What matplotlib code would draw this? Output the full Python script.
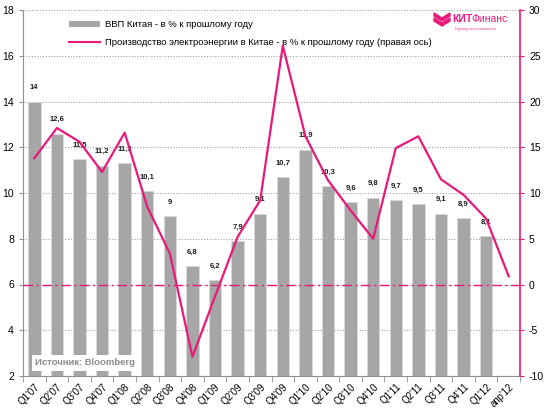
import numpy as np
import matplotlib.pyplot as plt
from matplotlib.lines import Line2D
from matplotlib.patches import Patch, Polygon

quarters = ["Q1'07", "Q2'07", "Q3'07", "Q4'07", "Q1'08", "Q2'08", "Q3'08", "Q4'08",
            "Q1'09", "Q2'09", "Q3'09", "Q4'09", "Q1'10", "Q2'10", "Q3'10", "Q4'10",
            "Q1'11", "Q2'11", "Q3'11", "Q4'11", "Q1'12", "апр'12"]
gdp = [14, 12.6, 11.5, 11.2, 11.3, 10.1, 9, 6.8, 6.2, 7.9, 9.1, 10.7, 11.9,
       10.3, 9.6, 9.8, 9.7, 9.5, 9.1, 8.9, 8.1, np.nan]
power = [13.8, 17.1, 15.6, 12.3, 16.6, 8.5, 3.4, -7.9, -1.3, 5.2, 9.2, 26.1,
         16.2, 11.4, 8.1, 5.0, 14.9, 16.2, 11.5, 9.8, 7.2, 0.9]

magenta = '#E8197A'
bar_gray = '#A6A6A6'

plt.rcParams['font.family'] = ['Liberation Sans', 'DejaVu Sans']
plt.rcParams['axes.unicode_minus'] = False

fig = plt.figure(figsize=(5.5, 4.12), dpi=100)
ax = fig.add_axes([23 / 550, 1 - 376 / 412, (520 - 23) / 550, (376 - 10) / 412])
ax2 = ax.twinx()

x = np.arange(len(quarters))
ax.bar(x, gdp, 0.55, color=bar_gray, edgecolor='#D9D9D9', linewidth=0.6, zorder=2)
for xi, v in zip(x, gdp):
    if np.isnan(v):
        continue
    ax.text(xi, v + 0.45, ('%g' % v).replace('.', ','), ha='center', va='bottom',
            fontsize=5.5, fontweight='bold', color='#1a1a1a', zorder=5)

ax.set_ylim(2, 18)
ax.set_yticks(range(2, 19, 2))
ax.set_xlim(-0.5, len(quarters) - 0.5)
ax.yaxis.grid(True, linestyle=(0, (1, 1.5)), color='#A0A0A0', linewidth=0.8)
ax.set_axisbelow(True)
ax.set_xticks(x)
ax.set_xticklabels(quarters, rotation=45, ha='right', rotation_mode='anchor', fontsize=7)
ax.set_xticks(np.arange(-0.5, len(quarters), 1), minor=True)
ax.tick_params(axis='x', which='major', length=0, pad=4)
ax.tick_params(axis='x', which='minor', length=4, color='#909090')
ax.tick_params(axis='y', labelsize=7.5, length=3, color='#909090')
for s in ['top', 'right']:
    ax.spines[s].set_visible(False)
ax.spines['left'].set_color('#909090')
ax.spines['bottom'].set_color('#909090')

ax2.plot(x, power, color=magenta, linewidth=1.6, zorder=4)
ax2.axhline(0, color=magenta, linestyle=(0, (7, 2.5, 1.5, 2.5)), linewidth=1.0)
ax2.set_ylim(-10, 30)
ax2.set_yticks(range(-10, 31, 5))
ax2.tick_params(axis='y', labelsize=7.5, color=magenta, length=3)
for s in ['top', 'left', 'bottom']:
    ax2.spines[s].set_visible(False)
ax2.spines['right'].set_color(magenta)
ax2.spines['right'].set_linewidth(1.2)

handles = [Patch(facecolor=bar_gray, edgecolor='none'),
           Line2D([0], [0], color=magenta, linewidth=1.5)]
labels = ['ВВП Китая - в % к прошлому году',
          'Производство электроэнергии в Китае - в % к прошлому году (правая ось)']
ax.legend(handles, labels, loc='upper left', bbox_to_anchor=(0.075, 0.995),
          frameon=False, fontsize=6.8, handlelength=3.3, handleheight=0.6,
          handletextpad=0.5, labelspacing=0.9)

ax.text(0.025, 0.03, 'Источник: Bloomberg', transform=ax.transAxes,
        fontsize=6.8, fontweight='bold', color='#8c8c8c', zorder=6,
        bbox=dict(facecolor='white', edgecolor='none', pad=2.5))

# logo
for dy in (0, 5):
    pts = [(434, 13 + dy), (442, 18 + dy), (450, 13 + dy), (450, 16 + dy),
           (442, 21 + dy), (434, 16 + dy)]
    fig.patches.append(Polygon([(px / 550, 1 - py / 412) for px, py in pts],
                               closed=True, color=magenta, transform=fig.transFigure))
t1 = fig.text(452 / 550, 1 - 19 / 412, 'КИТ', color=magenta, fontsize=7.5,
              fontweight='bold', va='center', ha='left')
fig.canvas.draw()
bb = t1.get_window_extent()
fig.text(bb.x1 / fig.bbox.width - 0.001, 1 - 19 / 412, 'Финанс', color=magenta,
         fontsize=7.5, va='center', ha='left')
fig.text(455 / 550, 1 - 29 / 412, 'Брокерская компания', color=magenta,
         fontsize=3, va='center', ha='left', alpha=0.8)

fig.savefig('out.png', dpi=100)
